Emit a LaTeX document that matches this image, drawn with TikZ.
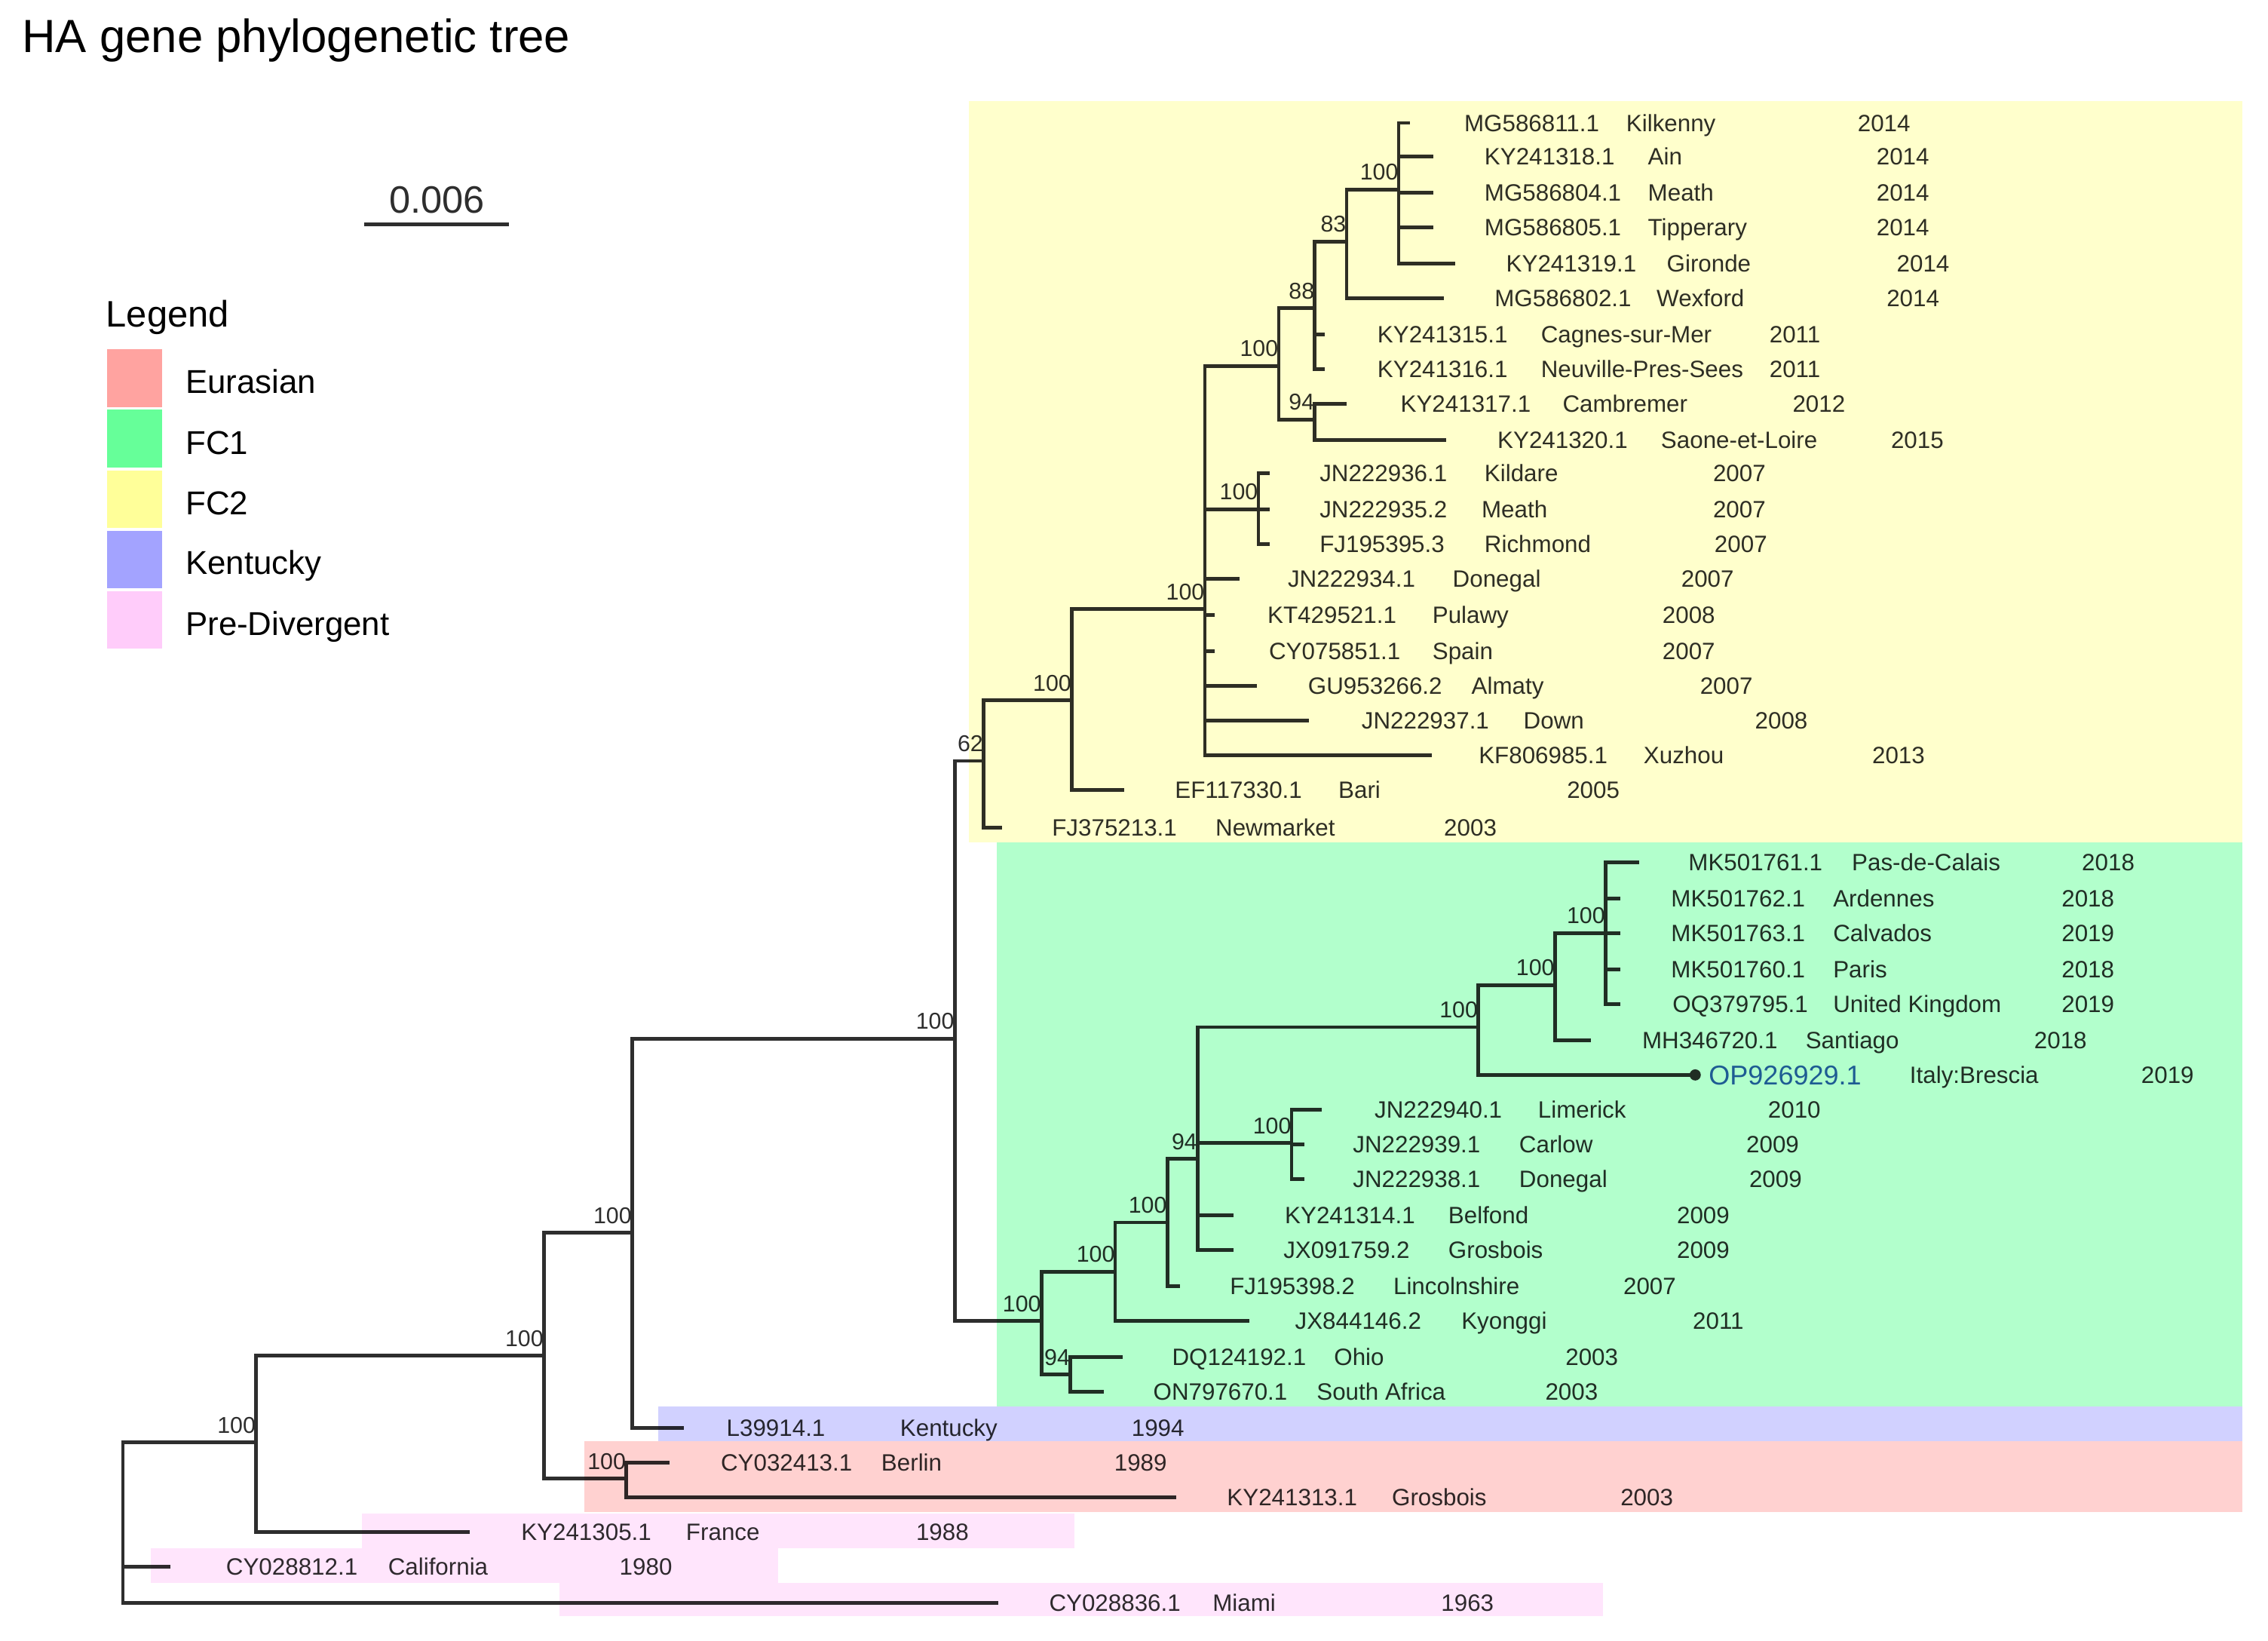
\documentclass[tikz,border=0pt]{standalone}
\usepackage{fontspec}
\setmainfont{Liberation Sans}
\definecolor{ink}{HTML}{2E2E2E}
\definecolor{leura}{HTML}{FFA3A0}
\definecolor{lfcone}{HTML}{66FF99}
\definecolor{lfctwo}{HTML}{FFFF99}
\definecolor{lkent}{HTML}{A3A3FF}
\definecolor{lpred}{HTML}{FFCCFA}
\definecolor{opblue}{HTML}{2B5CB8}
\newcommand{\tipleaf}[9]{%
  \coordinate (#1) at (#2,#3);
  \node[tiplab] (#1-a) at (#5,#3) {#4};
  \node[tiplab] (#1-l) at (#7,#3) {#6};
  \node[tiplab] (#1-y) at (#9,#3) {#8};}
\newcommand{\inode}[4]{%
  \coordinate (#1) at (#2,#3);
  \node[boot] (#1-b) at (#1) {#4};}
\newcommand{\kids}[2]{\foreach \kid in {#2} {\draw[branch] (#1) |- (\kid);}}
\begin{document}
\begin{tikzpicture}[x=0.02cm,y=-0.02cm,
  branch/.style={draw=ink,line width=1.4pt},
  tiplab/.style={anchor=base west,inner sep=0pt,text=ink,font=\fontsize{9.3}{11}\selectfont,yshift=-3.3pt},
  boot/.style={anchor=south east,inner sep=0pt,text=ink,font=\fontsize{9}{11}\selectfont,yshift=1.2mm},
  legsq/.style={minimum width=0.76cm,minimum height=0.8cm,inner sep=0pt,draw=none},
  leglab/.style={anchor=base west,inner sep=0pt,font=\fontsize{13}{15}\selectfont}]
\fill[white] (0,0) rectangle (1568,1134);
\useasboundingbox (0,0) rectangle (1568,1134);

% title, scale bar, legend
\node[anchor=base west,inner sep=0pt,font=\fontsize{18.3}{22}\selectfont] (title) at (15,36) {HA gene phylogenetic tree};
\coordinate (sbL) at (252,155);
\coordinate (sbR) at (352,155);
\draw[ink,line width=1.4pt] (sbL) -- (sbR);
\node[anchor=base,inner sep=0pt,text=ink,font=\fontsize{15}{18}\selectfont] (sbt) at (302,147) {0.006};
\node[anchor=base west,inner sep=0pt,font=\fontsize{14.5}{17}\selectfont] (legt) at (73,226) {Legend};
\node[legsq,fill=leura]  (lq1) at (93,261.5) {};
\node[legsq,fill=lfcone] (lq2) at (93,303.25) {};
\node[legsq,fill=lfctwo] (lq3) at (93,345) {};
\node[legsq,fill=lkent]  (lq4) at (93,386.75) {};
\node[legsq,fill=lpred]  (lq5) at (93,428.5) {};
\node[leglab] (ll1) at (128,272) {Eurasian};
\node[leglab] (ll2) at (128,314) {FC1};
\node[leglab] (ll3) at (128,356) {FC2};
\node[leglab] (ll4) at (128,397) {Kentucky};
\node[leglab] (ll5) at (128,439) {Pre-Divergent};

% ---------- internal nodes ----------
\coordinate (R) at (85,1050);
\inode{n1}{177}{997}{100}
\inode{n2}{376}{937}{100}
\inode{neu}{433}{1022}{100}
\inode{n3}{437}{852}{100}
\inode{n4}{660}{718}{100}
\inode{fctwo}{680}{526}{62}
\inode{a1}{741}{484}{100}
\inode{a2}{833}{421}{100}
\inode{akil}{870}{352}{100}
\inode{a3}{884}{253}{100}
\inode{a4}{909}{213}{88}
\inode{a5}{909}{290}{94}
\inode{a6}{931}{167}{83}
\inode{a7}{967}{131}{100}
\inode{fcone}{720}{913}{100}
\inode{b1}{771}{879}{100}
\inode{b2}{740}{950}{94}
\inode{b3}{807}{845}{100}
\inode{b4}{828}{801}{94}
\inode{b6}{893}{790}{100}
\inode{b5}{1022}{710}{100}
\inode{b7}{1075}{681}{100}
\inode{b8}{1110}{645}{100}

% ---------- tips ----------
\tipleaf{kil}{975}{85}{MG586811.1}{1012}{Kilkenny}{1124}{2014}{1284}
\tipleaf{ain}{991}{108}{KY241318.1}{1026}{Ain}{1139}{2014}{1297}
\tipleaf{meaA}{991}{133}{MG586804.1}{1026}{Meath}{1139}{2014}{1297}
\tipleaf{tipp}{991}{157}{MG586805.1}{1026}{Tipperary}{1139}{2014}{1297}
\tipleaf{gir}{1006}{182}{KY241319.1}{1041}{Gironde}{1152}{2014}{1311}
\tipleaf{wex}{998}{206}{MG586802.1}{1033}{Wexford}{1145}{2014}{1304}
\tipleaf{cag}{916}{231}{KY241315.1}{952}{Cagnes-sur-Mer}{1065}{2011}{1223}
\tipleaf{neuv}{916}{255}{KY241316.1}{952}{Neuville-Pres-Sees}{1065}{2011}{1223}
\tipleaf{cam}{931}{279}{KY241317.1}{968}{Cambremer}{1080}{2012}{1239}
\tipleaf{sao}{1000}{304}{KY241320.1}{1035}{Saone-et-Loire}{1148}{2015}{1307}
\tipleaf{kld}{878}{327}{JN222936.1}{912}{Kildare}{1026}{2007}{1184}
\tipleaf{meaB}{878}{352}{JN222935.2}{912}{Meath}{1024}{2007}{1184}
\tipleaf{ric}{878}{376}{FJ195395.3}{912}{Richmond}{1026}{2007}{1185}
\tipleaf{donA}{857}{400}{JN222934.1}{890}{Donegal}{1004}{2007}{1162}
\tipleaf{pul}{840}{425}{KT429521.1}{876}{Pulawy}{990}{2008}{1149}
\tipleaf{spa}{840}{450}{CY075851.1}{877}{Spain}{990}{2007}{1149}
\tipleaf{alm}{869}{474}{GU953266.2}{904}{Almaty}{1017}{2007}{1175}
\tipleaf{dow}{905}{498}{JN222937.1}{941}{Down}{1053}{2008}{1213}
\tipleaf{xuz}{990}{522}{KF806985.1}{1022}{Xuzhou}{1136}{2013}{1294}
\tipleaf{bar}{777}{546}{EF117330.1}{812}{Bari}{925}{2005}{1083}
\tipleaf{nwm}{693}{572}{FJ375213.1}{727}{Newmarket}{840}{2003}{998}

\tipleaf{pdc}{1133}{596}{MK501761.1}{1167}{Pas-de-Calais}{1280}{2018}{1439}
\tipleaf{ard}{1120}{621}{MK501762.1}{1155}{Ardennes}{1267}{2018}{1425}
\tipleaf{cal}{1120}{645}{MK501763.1}{1155}{Calvados}{1267}{2019}{1425}
\tipleaf{par}{1120}{670}{MK501760.1}{1155}{Paris}{1267}{2018}{1425}
\tipleaf{uk}{1120}{694}{OQ379795.1}{1156}{United Kingdom}{1267}{2019}{1425}
\tipleaf{san}{1100}{719}{MH346720.1}{1135}{Santiago}{1248}{2018}{1406}
\coordinate (op) at (1172,743);
\node[tiplab,text=opblue,font=\fontsize{10.7}{13}\selectfont,yshift=-0.5pt] (op-a) at (1181,743) {OP926929.1};
\node[tiplab] (op-l) at (1320,743) {Italy:Brescia};
\node[tiplab] (op-y) at (1480,743) {2019};
\tipleaf{lim}{914}{767}{JN222940.1}{950}{Limerick}{1063}{2010}{1222}
\tipleaf{car}{902}{791}{JN222939.1}{935}{Carlow}{1050}{2009}{1207}
\tipleaf{donB}{902}{815}{JN222938.1}{935}{Donegal}{1050}{2009}{1209}
\tipleaf{bel}{853}{840}{KY241314.1}{888}{Belfond}{1001}{2009}{1159}
\tipleaf{groA}{853}{864}{JX091759.2}{887}{Grosbois}{1001}{2009}{1159}
\tipleaf{lin}{816}{889}{FJ195398.2}{850}{Lincolnshire}{963}{2007}{1122}
\tipleaf{kyo}{864}{913}{JX844146.2}{895}{Kyonggi}{1010}{2011}{1170}
\tipleaf{ohi}{776}{938}{DQ124192.1}{810}{Ohio}{922}{2003}{1082}
\tipleaf{saf}{763}{962}{ON797670.1}{797}{South Africa}{910}{2003}{1068}

\tipleaf{ken}{473}{987}{L39914.1}{502}{Kentucky}{622}{1994}{782}
\tipleaf{ber}{463}{1011}{CY032413.1}{498}{Berlin}{609}{1989}{770}
\tipleaf{groB}{813}{1035}{KY241313.1}{848}{Grosbois}{962}{2003}{1120}
\tipleaf{fra}{325}{1059}{KY241305.1}{360}{France}{474}{1988}{633}
\tipleaf{cali}{118}{1083}{CY028812.1}{156}{California}{268}{1980}{428}
\tipleaf{mia}{690}{1108}{CY028836.1}{725}{Miami}{838}{1963}{996}

% ---------- branches ----------
\kids{R}{n1,cali,mia}
\kids{n1}{n2,fra}
\kids{n2}{n3,neu}
\kids{neu}{ber,groB}
\kids{n3}{n4,ken}
\kids{n4}{fctwo,fcone}
\kids{fctwo}{a1,nwm}
\kids{a1}{a2,bar}
\kids{a2}{a3,akil,donA,pul,spa,alm,dow,xuz}
\kids{akil}{kld,meaB,ric}
\kids{a3}{a4,a5}
\kids{a4}{a6,cag,neuv}
\kids{a5}{cam,sao}
\kids{a6}{a7,wex}
\kids{a7}{kil,ain,meaA,tipp,gir}
\kids{fcone}{b1,b2}
\kids{b2}{ohi,saf}
\kids{b1}{b3,kyo}
\kids{b3}{b4,lin}
\kids{b4}{b5,b6,bel,groA}
\kids{b6}{lim,car,donB}
\kids{b5}{b7,op}
\kids{b7}{b8,san}
\kids{b8}{pdc,ard,cal,par,uk}
\fill[ink] (op) circle[radius=2.2pt];

% ---------- clade boxes (multiply) ----------
\begin{scope}[blend mode=multiply]
\fill[lfctwo!50!white] (670,70) rectangle (1550,582);
\fill[lfcone!50!white] (689,582) rectangle (1550,972);
\fill[lkent!50!white] (455,972) rectangle (1550,996);
\fill[leura!50!white] (404,996) rectangle (1550,1045);
\fill[lpred!50!white] (250,1046) rectangle (743,1070);
\fill[lpred!50!white] (104,1070) rectangle (538,1094);
\fill[lpred!50!white] (387,1094) rectangle (1108,1117);
\end{scope}
\end{tikzpicture}
\end{document}
